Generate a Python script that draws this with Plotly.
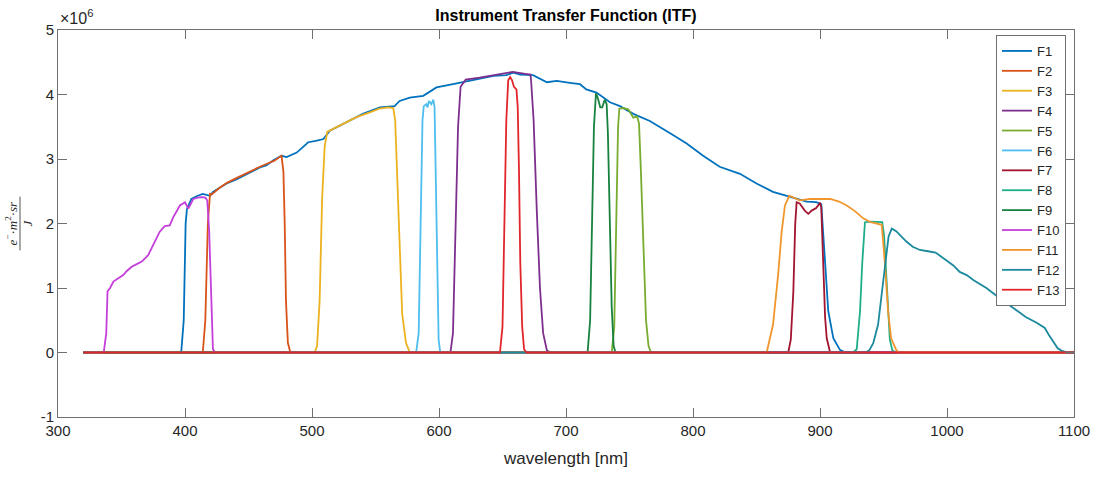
import plotly.graph_objects as go

# ---------------- data (values in units of 1e6) ----------------
names = ["F1", "F2", "F3", "F4", "F5", "F6", "F7", "F8", "F9", "F10", "F11", "F12", "F13"]
colors = ["#0072BD", "#D95319", "#EDB120", "#7E2F8E", "#77AC30", "#4DBEEE", "#A2142F",
          "#1FAE8A", "#17813E", "#C43FD9", "#F0962D", "#1B8A9C", "#E0262B"]

F1_wl = [320, 397, 399, 400.5, 401.5, 403, 405, 410, 414, 419.7, 422, 427, 432.8, 440, 445.7, 452, 459, 464,
         469.6, 476, 480, 488, 497, 503, 509, 514, 520, 527, 540, 553.5, 565, 569, 577, 587.6, 598, 611, 619,
         632, 643, 653, 658.5, 664, 674, 685, 692.7, 703, 711, 716, 724, 734.6, 742.5, 753, 766, 782, 795,
         808, 821, 837, 850, 863, 868.5, 879, 889.5, 897, 901, 904, 906.5, 910.5, 915.7, 920, 1100]
F1_val = [0, 0, 0.5, 2.0, 2.22, 2.3, 2.38, 2.43, 2.46, 2.43, 2.49, 2.55, 2.62, 2.68, 2.74, 2.8, 2.87, 2.9,
          2.98, 3.05, 3.03, 3.1, 3.26, 3.28, 3.31, 3.44, 3.5, 3.57, 3.7, 3.8, 3.82, 3.9, 3.95, 3.98, 4.11, 4.16, 4.19,
          4.25, 4.29, 4.3, 4.34, 4.31, 4.3, 4.19, 4.21, 4.18, 4.16, 4.08, 4.03, 3.88, 3.82, 3.7, 3.59, 3.4, 3.24,
          3.05, 2.88, 2.77, 2.62, 2.49, 2.46, 2.4, 2.34, 2.33, 2.3, 1.4, 0.64, 0.22, 0.04, 0, 0]

F2_wl = [320, 414, 416, 418, 419.7, 421, 427, 433, 440, 446, 452, 459, 465, 470, 476, 477.5, 478.5, 479.5, 481, 483, 1100]
F2_val = [0, 0, 0.5, 2.0, 2.46, 2.45, 2.55, 2.63, 2.7, 2.76, 2.82, 2.88, 2.93, 2.97, 3.05, 2.8, 2.0, 0.8, 0.15, 0, 0]

F3_wl = [320, 502, 504, 506, 508, 510, 512, 520, 527, 535, 545, 553, 560, 564, 565.5, 567, 569, 571, 574, 577, 1100]
F3_val = [0, 0, 0.1, 0.8, 2.4, 3.2, 3.42, 3.5, 3.57, 3.65, 3.72, 3.78, 3.8, 3.79, 3.6, 2.8, 1.5, 0.6, 0.15, 0, 0]

F4_wl = [320, 609, 611, 613, 615, 617, 621, 632, 645, 658, 668, 672, 672.5, 674.5, 677, 679.5, 682, 685, 688, 1100]
F4_val = [0, 0, 0.3, 1.8, 3.5, 4.12, 4.23, 4.26, 4.31, 4.35, 4.32, 4.31, 4.22, 3.6, 2.2, 1.0, 0.3, 0.03, 0, 0]

F5_wl = [320, 736, 738, 739.5, 741, 742, 745, 749, 751, 753, 756, 757.5, 759, 761, 763, 765, 767, 1100]
F5_val = [0, 0, 0.4, 2.0, 3.5, 3.78, 3.79, 3.77, 3.7, 3.64, 3.66, 3.55, 2.8, 1.5, 0.5, 0.1, 0, 0]

F6_wl = [320, 582, 584, 585.5, 587, 588, 590, 591, 592, 594, 595.5, 596.5, 597.5, 598.5, 599.7, 601, 1100]
F6_val = [0, 0, 0.3, 2.0, 3.6, 3.82, 3.85, 3.8, 3.9, 3.85, 3.92, 3.8, 2.6, 1.2, 0.2, 0, 0]

F7_wl = [320, 875, 877, 879, 880.5, 881.6, 884, 888, 890.8, 893.4, 897, 900, 901, 902.6, 904, 905.3, 908, 1100]
F7_val = [0, 0, 0.2, 0.94, 2.0, 2.33, 2.31, 2.2, 2.15, 2.2, 2.24, 2.32, 2.25, 1.15, 0.55, 0.22, 0, 0]

F8_wl = [320, 926, 928.9, 931.5, 933.3, 935.4, 940, 945, 949, 950.5, 952, 953.5, 955, 957, 960, 1100]
F8_val = [0, 0, 0.05, 0.64, 1.4, 2.02, 2.03, 2.02, 2.02, 1.8, 1.2, 0.6, 0.2, 0.03, 0, 0]

F9_wl = [320, 717, 719, 720.5, 722, 723.6, 725, 727, 728.5, 730.5, 732, 733, 734.5, 736, 737.5, 739, 1100]
F9_val = [0, 0, 0.5, 2.0, 3.5, 4.02, 3.95, 3.8, 3.8, 3.92, 3.85, 3.4, 2.0, 0.7, 0.1, 0, 0]

F10_wl = [320, 336, 338, 339, 341, 343.6, 347.5, 351.4, 354, 358, 362, 366, 371, 376, 380, 384, 388, 390.8,
          393.5, 396, 400, 402.6, 404, 406.5, 410, 413, 416, 417.5, 419, 420, 421, 422, 424, 1100]
F10_val = [0, 0, 0.3, 0.95, 1.0, 1.1, 1.15, 1.2, 1.26, 1.33, 1.37, 1.41, 1.51, 1.72, 1.87, 1.96, 1.97, 2.1,
           2.2, 2.28, 2.33, 2.23, 2.28, 2.38, 2.4, 2.41, 2.4, 2.36, 1.9, 1.2, 0.4, 0.05, 0, 0]

F11_wl = [320, 858, 863, 867, 869.8, 872.4, 875.8, 880, 884, 892, 900, 908, 915, 921, 927, 934, 940, 944.6,
          948.6, 951, 953.6, 956, 960, 962, 1100]
F11_val = [0, 0, 0.43, 1.2, 1.87, 2.28, 2.43, 2.4, 2.36, 2.38, 2.38, 2.38, 2.34, 2.28, 2.2, 2.08, 2.02, 2.0,
           1.98, 1.41, 0.64, 0.22, 0.04, 0, 0]

F12_wl = [320, 936, 939, 942, 945.7, 948, 950, 952, 954, 956.5, 960, 964, 968, 973, 978.7, 985, 991, 998,
          1005, 1010, 1015.5, 1021, 1026, 1031, 1041, 1052, 1062, 1070.6, 1074, 1077, 1080, 1083.7, 1087,
          1090, 1095, 1100]
F12_val = [0, 0, 0.04, 0.15, 0.43, 0.8, 1.15, 1.5, 1.8, 1.92, 1.88, 1.8, 1.72, 1.64, 1.59, 1.57, 1.55, 1.45,
           1.35, 1.25, 1.2, 1.12, 1.06, 1.0, 0.85, 0.69, 0.55, 0.46, 0.42, 0.38, 0.28, 0.17, 0.07,
           0.03, 0.0, 0]

F13_wl = [320, 648, 650, 651.5, 653, 654.5, 656, 657.5, 659, 661, 662, 663, 664, 665.5, 667, 669, 1100]
F13_val = [0, 0, 0.4, 2.0, 3.6, 4.22, 4.27, 4.22, 4.12, 4.08, 3.8, 2.8, 1.4, 0.4, 0.05, 0, 0]

wl_data = [F1_wl, F2_wl, F3_wl, F4_wl, F5_wl, F6_wl, F7_wl, F8_wl, F9_wl, F10_wl, F11_wl, F12_wl, F13_wl]
val_data = [F1_val, F2_val, F3_val, F4_val, F5_val, F6_val, F7_val, F8_val, F9_val, F10_val, F11_val, F12_val, F13_val]

x_ticks = [300, 400, 500, 600, 700, 800, 900, 1000, 1100]
y_ticks = [-1, 0, 1, 2, 3, 4, 5]

# ---------------- figure ----------------
W, H = 1106, 477
L, R, T, B = 58, 32, 30, 58
pw, ph = W - L - R, H - T - B

fig = go.Figure()
for n, c, xw, yv in zip(names, colors, wl_data, val_data):
    fig.add_trace(go.Scatter(x=xw, y=yv, mode="lines", name=n,
                             line=dict(color=c, width=1.8)))

font_family = "Arial, Liberation Sans, Helvetica, sans-serif"
axis_common = dict(showline=True, linecolor="#707070", linewidth=1, mirror="ticks",
                   ticks="inside", ticklen=9, tickcolor="#707070", tickwidth=1,
                   showgrid=False, zeroline=False,
                   tickfont=dict(family=font_family, size=15, color="#262626"))

fig.update_layout(
    width=W, height=H,
    margin=dict(l=L, r=R, t=T, b=B, pad=0),
    paper_bgcolor="white", plot_bgcolor="white",
    title=dict(text="<b>Instrument Transfer Function (ITF)</b>", x=(L + pw / 2) / W, xanchor="center",
               y=1 - 15 / H, yanchor="middle",
               font=dict(family=font_family, size=16, color="black")),
    xaxis=dict(range=[300, 1100], tickvals=x_ticks, ticktext=[str(v) for v in x_ticks],
               title=dict(text="wavelength [nm]", font=dict(family=font_family, size=17, color="#262626"),
                          standoff=14),
               **axis_common),
    yaxis=dict(range=[-1, 5], tickvals=y_ticks, ticktext=[str(v) for v in y_ticks],
               **axis_common),
    legend=dict(x=(1066 - L) / pw, xanchor="right", y=(H - B - 35) / ph, yanchor="top",
                bgcolor="white", bordercolor="#707070", borderwidth=1,
                font=dict(family=font_family, size=13, color="#262626"),
                tracegroupgap=0, itemwidth=30),
    showlegend=True,
)

# x10^6 exponent label
fig.add_annotation(text="×10<sup>6</sup>", xref="paper", yref="paper", x=0, y=1,
                   xanchor="left", yanchor="bottom", yshift=1, showarrow=False,
                   font=dict(family=font_family, size=16, color="#262626"))

# y-axis label as a fraction: (e^- . m^2 . sr) / J
ycen = 0.5
serif = "Liberation Serif, DejaVu Serif, serif"
fig.add_annotation(text="<i>e</i><sup>−</sup>·<i>m</i><sup>2</sup>·<i>sr</i>", xref="paper", yref="paper",
                   x=(11 - L) / pw, y=ycen, xanchor="center", yanchor="middle", textangle=-90,
                   showarrow=False, font=dict(family=serif, size=13, color="#262626"))
fig.add_annotation(text="<i>J</i>", xref="paper", yref="paper",
                   x=(27 - L) / pw, y=ycen, xanchor="center", yanchor="middle", textangle=-90,
                   showarrow=False, font=dict(family=serif, size=13, color="#262626"))
fig.add_shape(type="line", xref="paper", yref="paper",
              x0=(20 - L) / pw, x1=(20 - L) / pw, y0=ycen - 27 / ph, y1=ycen + 27 / ph,
              line=dict(color="#262626", width=0.8))

fig.write_html("out.html")
